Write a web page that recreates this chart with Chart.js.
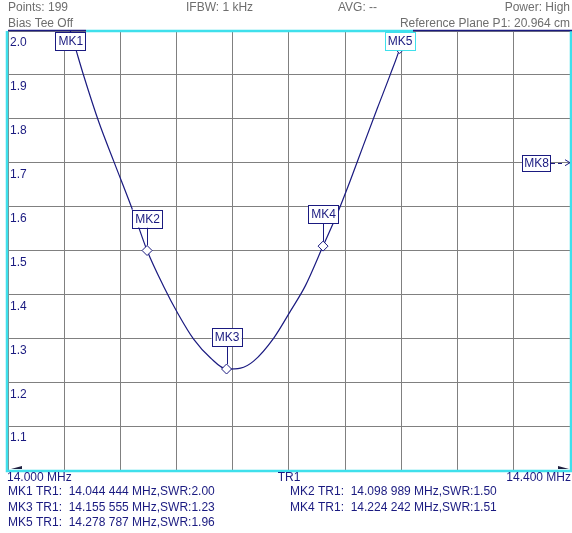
<!DOCTYPE html>
<html lang="en">
<head>
    <meta charset="UTF-8">
    <title>SWR sweep</title>
    <script src="https://cdn.jsdelivr.net/npm/chart.js"></script>
    <style>
        html, body { margin: 0; padding: 0; background: #fff; }
        #wrap { width: 572px; height: 533px; }
    </style>
</head>
<body>
    <div id="wrap"><canvas id="swrChart"></canvas></div>

    <script>
        // Trace (MHz / SWR)
        const freqs = [14.038, 14.0444, 14.0483, 14.054, 14.0647, 14.0753, 14.0895, 14.099, 14.1108, 14.1208,
                       14.1321, 14.1442, 14.1556, 14.1655, 14.1748, 14.189, 14.201, 14.2117, 14.2242, 14.2345,
                       14.2437, 14.253, 14.263, 14.272, 14.2788, 14.285];
        const swr = [2.10, 2.00, 1.958, 1.897, 1.792, 1.703, 1.585, 1.50, 1.418, 1.357,
                     1.298, 1.255, 1.23, 1.232, 1.248, 1.30, 1.362, 1.42, 1.51, 1.585,
                     1.66, 1.74, 1.825, 1.90, 1.96, 2.03];

        // Markers
        const markerNames = ['MK1', 'MK2', 'MK3', 'MK4', 'MK5'];
        const markerFreq = [14.044444, 14.098989, 14.155555, 14.224242, 14.278787];
        const markerSwr = [2.00, 1.50, 1.23, 1.51, 1.96];
        const markerText = [
            'MK1 TR1:  14.044 444 MHz,SWR:2.00',
            'MK2 TR1:  14.098 989 MHz,SWR:1.50',
            'MK3 TR1:  14.155 555 MHz,SWR:1.23',
            'MK4 TR1:  14.224 242 MHz,SWR:1.51',
            'MK5 TR1:  14.278 787 MHz,SWR:1.96'
        ];
        const offMarker = { name: 'MK8', swr: 1.7 };

        const xMin = 14.0, xMax = 14.4, xStep = 0.04;
        const yMin = 1.0, yMax = 2.0, yStep = 0.1;

        const NAVY = '#1a1a80';
        const CYAN = '#3fe0ec';
        const GRAY = '#6e6e6e';
        const FONT = "12px 'Liberation Sans', Arial, sans-serif";

        const screenPlugin = {
            id: 'screen',
            afterDraw(chart) {
                const ctx = chart.ctx;
                const a = chart.chartArea;
                const xs = chart.scales.x, ys = chart.scales.y;
                ctx.save();

                // frame
                ctx.strokeStyle = CYAN;
                ctx.lineWidth = 2.5;
                ctx.beginPath();
                ctx.moveTo(a.left - 1, a.top);
                ctx.lineTo(a.left - 1, a.bottom + 1);
                ctx.lineTo(a.right + 1, a.bottom + 1);
                ctx.lineTo(a.right + 1, a.top);
                ctx.stroke();
                ctx.beginPath();
                ctx.moveTo(86, a.top);
                ctx.lineTo(413, a.top);
                ctx.stroke();
                ctx.strokeStyle = NAVY;
                ctx.lineWidth = 1.5;
                ctx.beginPath();
                ctx.moveTo(a.left, a.top - 0.5);
                ctx.lineTo(86, a.top - 0.5);
                ctx.moveTo(413, a.top - 0.5);
                ctx.lineTo(a.right + 2, a.top - 0.5);
                ctx.stroke();

                // corner wedges
                ctx.fillStyle = '#202040';
                ctx.beginPath();
                ctx.moveTo(11, a.bottom - 1); ctx.lineTo(22, a.bottom - 4); ctx.lineTo(22, a.bottom - 1); ctx.closePath();
                ctx.fill();
                ctx.beginPath();
                ctx.moveTo(558, a.bottom - 4); ctx.lineTo(569, a.bottom - 1); ctx.lineTo(558, a.bottom - 1); ctx.closePath();
                ctx.fill();

                ctx.font = FONT;
                ctx.textBaseline = 'middle';

                // header
                ctx.fillStyle = GRAY;
                ctx.textAlign = 'left';
                ctx.fillText('Points: 199', 8, 8);
                ctx.fillText('IFBW: 1 kHz', 186, 8);
                ctx.fillText('AVG: --', 338, 8);
                ctx.fillText('Bias Tee Off', 8, 24);
                ctx.textAlign = 'right';
                ctx.fillText('Power: High', 570, 8);
                ctx.fillText('Reference Plane P1: 20.964 cm', 570, 24);

                // x range labels
                ctx.fillStyle = NAVY;
                ctx.textAlign = 'left';
                ctx.fillText(xMin.toFixed(3) + ' MHz', 7, 478);
                ctx.textAlign = 'center';
                ctx.fillText('TR1', 289, 478);
                ctx.textAlign = 'right';
                ctx.fillText(xMax.toFixed(3) + ' MHz', 571, 478);

                // marker readout
                ctx.textAlign = 'left';
                markerText.forEach((t, i) => {
                    const col = i % 2, row = Math.floor(i / 2);
                    ctx.fillText(t, col ? 290 : 8, 492 + row * 15.5);
                });

                // markers on trace
                markerNames.forEach((name, i) => {
                    const px = xs.getPixelForValue(markerFreq[i]);
                    const py = ys.getPixelForValue(markerSwr[i]);
                    const bw = 30, bh = 18;
                    let top = Math.max(a.top + 1, py - 41);
                    const left = px - bw / 2;
                    ctx.strokeStyle = NAVY;
                    ctx.lineWidth = 1;
                    if (py - (top + bh) > 5) {
                        ctx.beginPath();
                        ctx.moveTo(Math.round(px) + 0.5, top + bh);
                        ctx.lineTo(Math.round(px) + 0.5, py - 5);
                        ctx.stroke();
                    }
                    // diamond
                    if (py > a.top + 4) {
                        ctx.fillStyle = '#fff';
                        ctx.beginPath();
                        ctx.moveTo(px, py - 5); ctx.lineTo(px + 5, py); ctx.lineTo(px, py + 5); ctx.lineTo(px - 5, py);
                        ctx.closePath();
                        ctx.fill();
                        ctx.stroke();
                    }
                    ctx.fillStyle = '#fff';
                    ctx.fillRect(left, top, bw, bh);
                    ctx.strokeStyle = name === 'MK5' ? CYAN : NAVY;
                    ctx.strokeRect(Math.round(left) + 0.5, Math.round(top) + 0.5, bw, bh);
                    ctx.fillStyle = NAVY;
                    ctx.textAlign = 'center';
                    ctx.fillText(name, px + 0.5, top + bh / 2 + 1);
                });

                // off-screen marker
                const oy = ys.getPixelForValue(offMarker.swr);
                ctx.fillStyle = '#fff';
                ctx.fillRect(522, oy - 8, 28, 16);
                ctx.strokeStyle = NAVY;
                ctx.strokeRect(522.5, Math.round(oy - 8) + 0.5, 28, 16);
                ctx.fillStyle = NAVY;
                ctx.textAlign = 'center';
                ctx.fillText(offMarker.name, 536.5, oy + 0.5);
                ctx.setLineDash([4, 3]);
                ctx.beginPath();
                ctx.moveTo(551, Math.round(oy) + 0.5);
                ctx.lineTo(564, Math.round(oy) + 0.5);
                ctx.stroke();
                ctx.setLineDash([]);
                ctx.beginPath();
                ctx.moveTo(565, oy - 3); ctx.lineTo(570, oy); ctx.lineTo(565, oy + 3);
                ctx.stroke();

                ctx.restore();
            }
        };

        document.addEventListener('DOMContentLoaded', function() {
            Chart.defaults.font.family = "'Liberation Sans', Arial, sans-serif";
            Chart.defaults.font.size = 12;

            new Chart(document.getElementById('swrChart').getContext('2d'), {
                type: 'scatter',
                data: {
                    datasets: [{
                        label: 'SWR',
                        data: freqs.map((f, i) => ({ x: f, y: swr[i] })),
                        showLine: true,
                        borderColor: NAVY,
                        borderWidth: 1.2,
                        cubicInterpolationMode: 'monotone',
                        pointRadius: 0,
                        fill: false
                    }]
                },
                options: {
                    responsive: true,
                    maintainAspectRatio: false,
                    animation: false,
                    layout: { padding: { left: 4, right: 2, top: 31, bottom: 63 } },
                    plugins: {
                        legend: { display: false },
                        tooltip: { enabled: false }
                    },
                    scales: {
                        x: {
                            type: 'linear',
                            min: xMin,
                            max: xMax,
                            border: { display: false },
                            grid: { color: '#808080', drawTicks: false },
                            ticks: { display: false, stepSize: xStep }
                        },
                        y: {
                            min: yMin,
                            max: yMax,
                            border: { display: false },
                            grid: { color: '#808080', drawTicks: false },
                            ticks: {
                                stepSize: yStep,
                                mirror: true,
                                padding: 2,
                                labelOffset: 12,
                                color: NAVY,
                                callback: v => (Math.abs(v - yMin) < 1e-6 ? '' : v.toFixed(1))
                            }
                        }
                    }
                },
                plugins: [screenPlugin]
            });
        });
    </script>
</body>
</html>
